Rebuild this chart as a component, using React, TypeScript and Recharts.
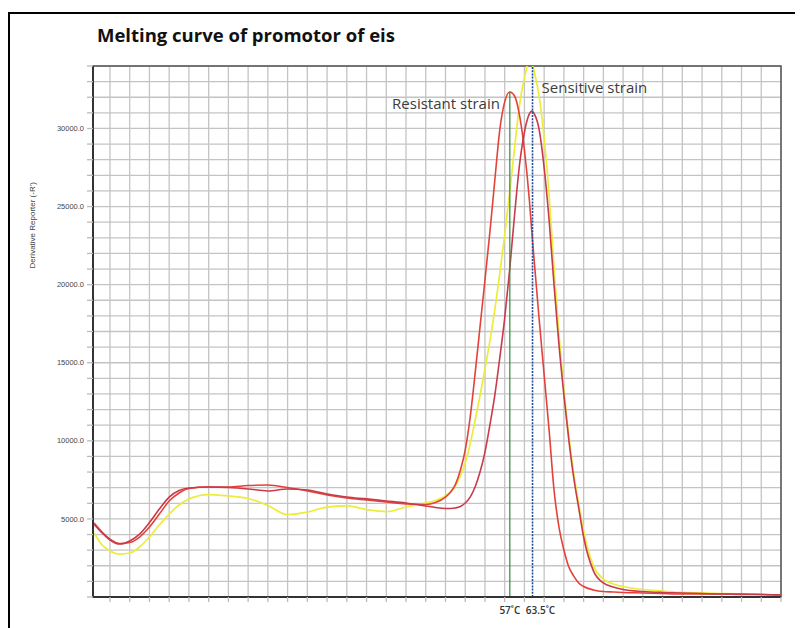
import React from 'react';
import {
  LineChart,
  Line,
  XAxis,
  YAxis,
  CartesianGrid,
  ReferenceLine,
  ReferenceArea,
  ReferenceDot,
} from 'recharts';

// Temperature axis (°C, one grid column per degree)
const temperatures = [
  59.2, 59.6, 60, 60.5, 61, 61.5, 62, 62.5, 63, 63.5,
  64, 65, 66, 67, 68, 69, 70, 71, 72, 73,
  74, 75, 76, 76.5,
  77, 77.25, 77.5, 77.75, 78, 78.25, 78.5, 78.75, 79, 79.25,
  79.5, 79.75, 80, 80.25, 80.5, 80.75, 81, 81.25, 81.375, 81.5,
  81.75, 82, 82.25, 82.5, 82.75, 83, 83.25, 83.5, 83.75, 84,
  84.5, 85, 85.5, 86, 87, 88, 89, 90, 91, 92, 93, 94,
];

// Resistant strain (red, peak at the green marker)
const resistantStrain = [
  4740, 4160, 3710, 3430, 3490, 3840, 4480, 5310, 6150, 6660,
  6950, 7040, 7040, 7140, 7170, 7010, 6790, 6530, 6340, 6210,
  6080, 5950, 5920, 6050,
  6400, 6700, 7200, 8100, 9400, 11500, 14300, 17300, 20300, 23370,
  26700, 29900, 31700, 32340, 32080, 30860, 28620, 25420, 23370, 21450,
  17740, 14210, 10690, 6850, 4480, 3010, 1920, 1340, 900, 670,
  450, 350, 320, 290, 260, 220, 190, 190, 190, 160, 160, 130,
];

// Sensitive strain (crimson, peak at the blue marker)
const sensitiveStrainRed = [
  4650, 4100, 3650, 3390, 3590, 4030, 4770, 5630, 6400, 6820,
  6980, 7040, 7010, 6920, 6790, 6920, 6850, 6600, 6400, 6280,
  6150, 6020, 5830, 5730,
  5670, 5670, 5700, 5790, 6020, 6400, 7040, 8000, 9280, 11010,
  12930, 15300, 17860, 20940, 24460, 27660, 29770, 30930, 31120, 30930,
  29900, 27470, 24140, 19980, 16140, 12930, 10050, 7620, 5700, 3840,
  1660, 900, 640, 480, 350, 290, 260, 220, 190, 190, 160, 130,
];

// Sensitive strain (yellow)
const sensitiveStrainYellow = [
  4100, 3330, 2950, 2750, 2820, 3200, 3840, 4610, 5310, 5890,
  6270, 6560, 6470, 6310, 5860, 5280, 5440, 5760, 5830, 5600,
  5470, 5760, 6020, 6180,
  6470, 6720, 7110, 7750, 8580, 9800, 11300, 12900, 14600, 16400,
  18400, 20700, 23200, 25900, 28750, 31500, 33230, 34380, 34190, 33620,
  32020, 29390, 25740, 21070, 16780, 13250, 10310, 7880, 5950, 4230,
  1980, 1150, 830, 670, 480, 380, 290, 260, 220, 190, 160, 130,
];

const xDomain = [59.14, 94];
const xTicks = [
  60, 61, 62, 63, 64, 65, 66, 67, 68, 69, 70, 71, 72, 73, 74, 75, 76,
  77, 78, 79, 80, 81, 82, 83, 84, 85, 86, 87, 88, 89, 90, 91, 92, 93, 94,
];
const yDomain = [0, 34000];
const yTicks = [
  0, 1000, 2000, 3000, 4000, 5000, 6000, 7000, 8000, 9000, 10000, 11000,
  12000, 13000, 14000, 15000, 16000, 17000, 18000, 19000, 20000, 21000,
  22000, 23000, 24000, 25000, 26000, 27000, 28000, 29000, 30000, 31000,
  32000, 33000, 34000,
];
const yLabelTicks = [5000, 10000, 15000, 20000, 25000, 30000];

// Melting temperature markers
const markerTemps = [80.26, 81.41];
const markerTops = [32340, 34000];
const markerLabels = ['57˚C', '63.5˚C'];

// Curve annotations
const annotationTexts = ['Resistant strain', 'Sensitive strain'];
const annotationTemps = [79.76, 81.87];
const annotationValues = [31250, 32270];

const data = temperatures.map((t, i) => ({
  t,
  resistant: resistantStrain[i],
  sensRed: sensitiveStrainRed[i],
  sensYellow: sensitiveStrainYellow[i],
}));

const BottomTag = (props: any) => {
  const { viewBox, text, dx } = props;
  if (!viewBox) return null;
  return (
    <text
      x={viewBox.x + (dx || 0)}
      y={viewBox.y + viewBox.height + 17}
      textAnchor="middle"
      fontSize={10}
      fontWeight={600}
      fill="#333"
      fontFamily="Open Sans"
    >
      {text}
    </text>
  );
};

const Annotation = (props: any) => {
  const { viewBox, text, anchor } = props;
  if (!viewBox) return null;
  return (
    <text
      x={viewBox.x + viewBox.width / 2}
      y={viewBox.y + viewBox.height / 2}
      textAnchor={anchor}
      fontSize={15}
      fill="#3c3c3c"
      fontFamily="Open Sans"
    >
      {text}
    </text>
  );
};

const AxisTitle = (props: any) => {
  const { viewBox } = props;
  if (!viewBox) return null;
  const cx = viewBox.x + 27;
  const cy = viewBox.y + viewBox.height * 0.3;
  return (
    <text
      x={cx}
      y={cy}
      transform={`rotate(-90, ${cx}, ${cy})`}
      textAnchor="middle"
      fontSize={8}
      fill="#444"
      fontFamily="Liberation Sans"
    >
      Derivative Reporter (-R')
    </text>
  );
};

export default function App() {
  return (
    <div style={{ position: 'relative', width: 795, height: 620, overflow: 'hidden', background: '#fff' }}>
      <div
        style={{
          position: 'absolute',
          left: 0,
          top: 4,
          width: 900,
          height: 900,
          borderLeft: '2.5px solid #000',
          borderTop: '2px solid #000',
        }}
      />
      <div
        style={{
          position: 'absolute',
          left: 89,
          top: 18,
          fontFamily: 'Open Sans',
          fontWeight: 700,
          fontSize: 18.5,
          lineHeight: '18px',
          color: '#111',
          whiteSpace: 'nowrap',
        }}
      >
        Melting curve of promotor of eis
      </div>
      <div style={{ position: 'absolute', left: 0, top: 0 }}>
        <LineChart
          width={795}
          height={620}
          data={data}
          margin={{ top: 58, right: 22, bottom: 21, left: 0 }}
        >
          <CartesianGrid stroke="#c4c4c4" strokeWidth={1.3} />
          <XAxis
            dataKey="t"
            type="number"
            domain={xDomain}
            ticks={xTicks}
            interval={0}
            allowDataOverflow
            height={10}
            tickFormatter={() => ''}
            tickSize={5}
            tickLine={{ stroke: '#bbb', strokeWidth: 1.3 }}
            axisLine={{ stroke: '#333', strokeWidth: 2 }}
          />
          <YAxis
            type="number"
            domain={yDomain}
            ticks={yTicks}
            allowDataOverflow
            width={85}
            interval={0}
            tickSize={6}
            tickMargin={3}
            tickFormatter={(v: number) => (yLabelTicks.includes(v) ? v.toFixed(1) : '')}
            tick={{ fontSize: 7.5, fill: '#444', fontFamily: 'Liberation Sans' }}
            tickLine={{ stroke: '#bbb', strokeWidth: 1.3 }}
            axisLine={{ stroke: '#333', strokeWidth: 2 }}
            label={<AxisTitle />}
          />
          <Line
            type="monotone"
            dataKey="sensYellow"
            stroke="#ecec3a"
            strokeWidth={1.7}
            dot={false}
            isAnimationActive={false}
          />
          <Line
            type="monotone"
            dataKey="resistant"
            stroke="#e5413b"
            strokeWidth={1.6}
            dot={false}
            isAnimationActive={false}
          />
          <Line
            type="monotone"
            dataKey="sensRed"
            stroke="#c93a4a"
            strokeWidth={1.6}
            dot={false}
            isAnimationActive={false}
          />
          <ReferenceLine
            segment={[
              { x: markerTemps[0], y: 0 },
              { x: markerTemps[0], y: markerTops[0] },
            ]}
            stroke="#2e8b3e"
            strokeWidth={1.2}
            label={<BottomTag text={markerLabels[0]} dx={0} />}
          />
          <ReferenceLine
            segment={[
              { x: markerTemps[1], y: 0 },
              { x: markerTemps[1], y: markerTops[1] },
            ]}
            stroke="#1e4a9a"
            strokeWidth={1.6}
            strokeDasharray="2 1.2"
            label={<BottomTag text={markerLabels[1]} dx={8} />}
          />
          <ReferenceArea
            x1={xDomain[0]}
            x2={xDomain[1]}
            y1={yDomain[0]}
            y2={yDomain[1]}
            fill="none"
            stroke="#555"
            strokeWidth={1.5}
            fillOpacity={0}
          />
          <ReferenceDot
            x={annotationTemps[0]}
            y={annotationValues[0]}
            r={0}
            fill="none"
            stroke="none"
            label={<Annotation text={annotationTexts[0]} anchor="end" />}
          />
          <ReferenceDot
            x={annotationTemps[1]}
            y={annotationValues[1]}
            r={0}
            fill="none"
            stroke="none"
            label={<Annotation text={annotationTexts[1]} anchor="start" />}
          />
        </LineChart>
      </div>
    </div>
  );
}
